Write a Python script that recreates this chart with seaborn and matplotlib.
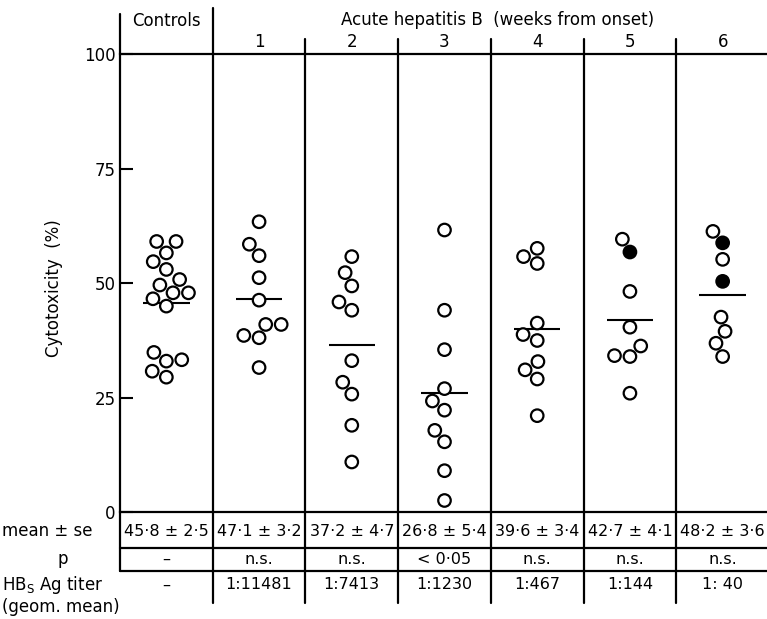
import matplotlib
matplotlib.use("Agg")
import matplotlib.pyplot as plt
import seaborn as sns
import numpy as np
import pandas as pd

# cytotoxicity (%) per group
groups = ["Controls", "1", "2", "3", "4", "5", "6"]
controls = [59.1, 59.1, 56.6, 54.7, 53.0, 50.8, 49.6, 47.9, 47.9, 46.6, 45.0,
            34.9, 33.3, 33.0, 30.8, 29.5]
week1 = [63.4, 58.5, 56.0, 51.2, 46.3, 41.0, 41.0, 38.6, 38.1, 31.6]
week2 = [55.8, 52.3, 49.4, 45.9, 44.1, 33.1, 28.4, 25.8, 19.0, 11.0]
week3 = [61.6, 44.1, 35.5, 27.0, 24.3, 22.3, 17.9, 15.4, 9.1, 2.6]
week4 = [57.6, 55.8, 54.3, 41.3, 38.8, 37.5, 32.9, 31.1, 29.1, 21.1]
week5 = [59.6, 56.8, 48.2, 40.4, 36.3, 34.2, 34.0, 26.0]
week6 = [61.3, 58.8, 55.2, 50.4, 42.6, 39.5, 36.9, 34.0]
# solid (filled) circles
week5_solid = [0, 1, 0, 0, 0, 0, 0, 0]
week6_solid = [0, 1, 0, 1, 0, 0, 0, 0]

mean_se = ["45·8 ± 2·5", "47·1 ± 3·2", "37·2 ± 4·7", "26·8 ± 5·4",
           "39·6 ± 3·4", "42·7 ± 4·1", "48·2 ± 3·6"]
p_values = ["–", "n.s.", "n.s.", "< 0·05", "n.s.", "n.s.", "n.s."]
titers = ["–", "1:11481", "1:7413", "1:1230", "1:467", "1:144", "1: 40"]

values = [controls, week1, week2, week3, week4, week5, week6]
solid = [[0] * len(controls), [0] * len(week1), [0] * len(week2),
         [0] * len(week3), [0] * len(week4), week5_solid, week6_solid]

sns.set_theme(style="white")
plt.rcParams["font.family"] = ["DejaVu Sans"]
plt.rcParams["text.color"] = "black"
plt.rcParams["axes.labelcolor"] = "black"

rows = []
for g, vals, sol in zip(groups, values, solid):
    for v, s in zip(vals, sol):
        rows.append({"group": g, "cytotoxicity": v,
                     "fill": "filled" if s else "open"})
df = pd.DataFrame(rows)

fig = plt.figure(figsize=(7.67, 6.19), dpi=100)
ax = fig.add_axes([120 / 767, 0.1722, 649 / 767, 0.7406])

sns.swarmplot(data=df, x="group", y="cytotoxicity", hue="fill", order=groups,
              palette={"open": "white", "filled": "black"}, edgecolor="black",
              linewidth=1.6, size=9, legend=False, ax=ax, zorder=3)

# mean bars
means = [np.mean(v) for v in values]
xs = np.arange(len(groups))
ax.hlines(means, xs - 0.25, xs + 0.25, color="black", lw=1.5, zorder=2)

ax.set_xlim(-0.5, 6.5)
ax.set_ylim(0, 100)
ax.set_xticks([])
ax.set_xlabel("")
ax.set_yticks([0, 25, 50, 75, 100])
ax.set_yticklabels(["0", "25", "50", "75", "100"], fontsize=12)
ax.tick_params(axis="y", left=True, direction="in", length=9.4, width=1.5,
               pad=3, colors="black")
ax.set_ylabel("Cytotoxicity  (%)", fontsize=12)
ax.yaxis.set_label_coords(-0.088, 0.49)

for side in ["left", "right"]:
    ax.spines[side].set_visible(False)
for side in ["top", "bottom"]:
    ax.spines[side].set_color("black")
    ax.spines[side].set_linewidth(1.6)

trans = ax.get_xaxis_transform()
lk = dict(color="black", lw=1.6, transform=trans, clip_on=False)

# frame and column dividers
ax.plot([-0.5, -0.5], [-0.1278, 1.0874], **lk)
ax.plot([0.5, 0.5], [-0.1976, 1.1004], **lk)
for k in range(1, 6):
    ax.plot([k + 0.5, k + 0.5], [-0.1976, 1.0329], **lk)
for yy in [-0.0777, -0.1278]:
    ax.plot([-0.5, 6.7], [yy, yy], **lk)

# header
ax.text(0, 1.072, "Controls", transform=trans, ha="center", va="center",
        fontsize=12)
ax.text(3.57, 1.074, "Acute hepatitis B  (weeks from onset)", transform=trans,
        ha="center", va="center", fontsize=12)
for k in range(1, 7):
    ax.text(k, 1.026, groups[k], transform=trans, ha="center", va="center",
            fontsize=12)

# table under the plot
for k in range(7):
    ax.text(k, -0.0406, mean_se[k], transform=trans, ha="center",
            va="center", fontsize=11.5)
    ax.text(k, -0.1017, p_values[k], transform=trans, ha="center",
            va="center", fontsize=11.5)
    ax.text(k, -0.158, titers[k], transform=trans, ha="center",
            va="center", fontsize=11.5)

fig.text(2 / 767, 1 - 531 / 619, "mean ± se", ha="left", va="center",
         fontsize=12)
fig.text(63 / 767, 1 - 559 / 619, "p", ha="center", va="center", fontsize=12)
fig.text(2 / 767, 1 - 585 / 619, r"HB$_\mathregular{S}$ Ag titer", ha="left",
         va="center", fontsize=12)
fig.text(2 / 767, 1 - 607 / 619, "(geom. mean)", ha="left", va="center",
         fontsize=12)

fig.savefig("out.png", dpi=100)
